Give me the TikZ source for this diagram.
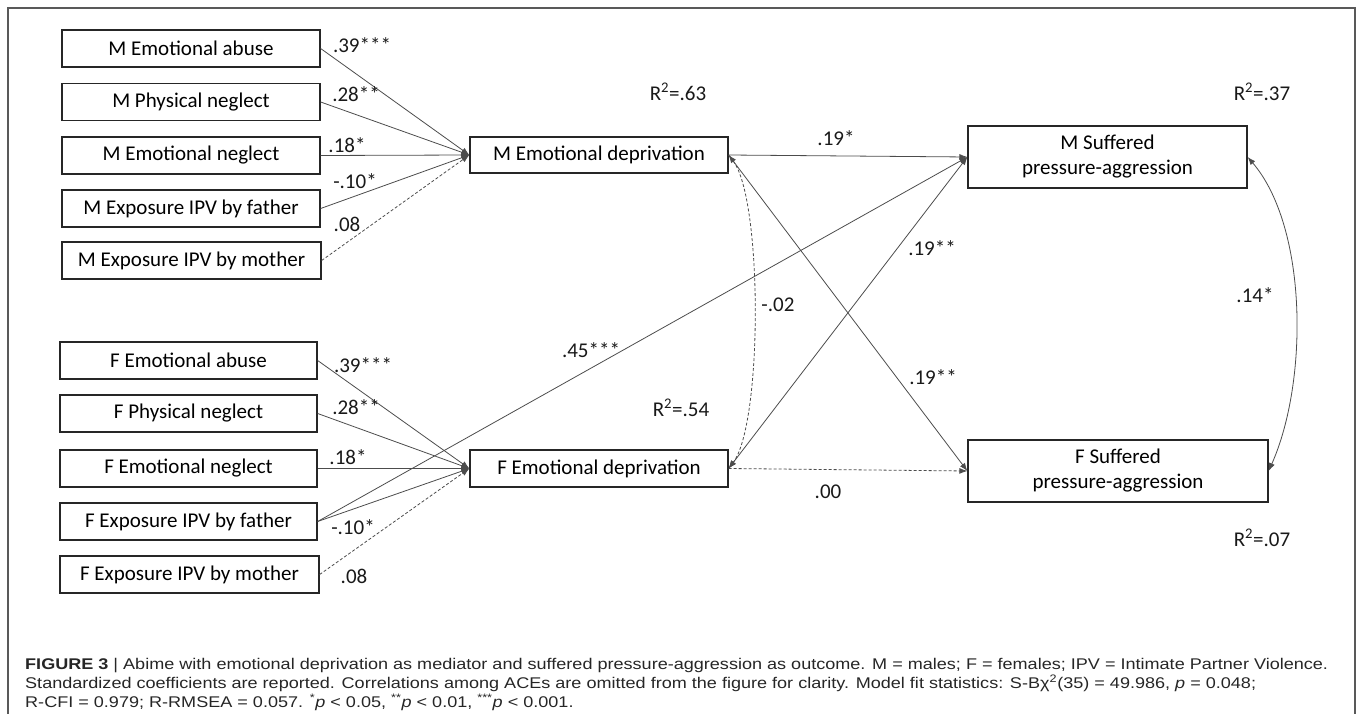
\documentclass[tikz,border=0pt]{standalone}
\usepackage{fontspec}
\setmainfont{Carlito}
\newfontfamily\capfont{Liberation Sans}
\usetikzlibrary{arrows.meta}
\begin{document}
\begin{tikzpicture}[x=1pt,y=-1pt,
  box/.style={draw=black!85, line width=1.3pt, inner sep=0pt, align=center, font=\fontsize{21}{25}\selectfont},
  lab/.style={inner sep=0pt, font=\fontsize{21}{25}\selectfont, text=black!90},
  conn/.style={draw=black!70, line width=0.8pt},
  arr/.style={-{Latex[length=8pt,width=6pt]}},
  barr/.style={{Latex[length=8pt,width=6pt]}-{Latex[length=8pt,width=6pt]}},
  dsh/.style={dash pattern=on 3pt off 2pt},
  captxt/.style={inner sep=0pt, font=\capfont\fontsize{15.5}{19}\selectfont, text=black!85}
]
\useasboundingbox (0,0) rectangle (1358,714);
\draw[gray!70!black, line width=1.6pt] (8,730) -- (8,8) -- (1355,8) -- (1355,730);

% M exogenous
\node[box, minimum width=258pt, minimum height=37pt] (m1) at (191,48.5) {M Emotional abuse};
\node[box, minimum width=258pt, minimum height=37pt] (m2) at (191,102) {M Physical neglect};
\node[box, minimum width=258pt, minimum height=37pt] (m3) at (191,155.5) {M Emotional neglect};
\node[box, minimum width=258pt, minimum height=37pt] (m4) at (191,208.5) {M Exposure IPV by father};
\node[box, minimum width=259pt, minimum height=37pt] (m5) at (191.5,260.5) {M Exposure IPV by mother};
% F exogenous
\node[box, minimum width=257pt, minimum height=37pt] (f1) at (188.5,360.5) {F Emotional abuse};
\node[box, minimum width=257pt, minimum height=37pt] (f2) at (188.5,413.5) {F Physical neglect};
\node[box, minimum width=257pt, minimum height=37pt] (f3) at (188.5,468.5) {F Emotional neglect};
\node[box, minimum width=257pt, minimum height=37pt] (f4) at (188.5,521.5) {F Exposure IPV by father};
\node[box, minimum width=259pt, minimum height=37pt] (f5) at (189.5,574.5) {F Exposure IPV by mother};
% mediators
\node[box, minimum width=258pt, minimum height=36pt] (ME) at (599,155) {M Emotional deprivation};
\node[box, minimum width=258pt, minimum height=37pt] (FE) at (599,468.5) {F Emotional deprivation};
% outcomes
\node[box, minimum width=279pt, minimum height=62pt] (MS) at (1107.5,157) {M Suffered\\pressure-aggression};
\node[box, minimum width=300pt, minimum height=62pt] (FS) at (1118,471) {F Suffered\\pressure-aggression};

% connectors M
\draw[conn,arr] (m1.east) -- (ME.west);
\draw[conn,arr] (m2.east) -- (ME.west);
\draw[conn,arr] (m3.east) -- (ME.west);
\draw[conn,arr] (m4.east) -- (ME.west);
\draw[conn,arr,dsh] (m5.east) -- (ME.west);
% connectors F
\draw[conn,arr] (f1.east) -- (FE.west);
\draw[conn,arr] (f2.east) -- (FE.west);
\draw[conn,arr] (f3.east) -- (FE.west);
\draw[conn,arr] (f4.east) -- (FE.west);
\draw[conn,arr,dsh] (f5.east) -- (FE.west);
% paths
\draw[conn,arr] (ME.east) -- (MS.west);
\draw[conn,arr] (f4.east) -- (MS.west);
\draw[conn,barr] (MS.west) -- (FE.east);
\draw[conn,arr] (ME.east) -- (FS.west);
\draw[conn,arr,dsh] (FE.east) -- (FS.west);
\draw[conn,barr,dsh] (ME.east) .. controls +(34,45) and +(34,-45) .. (FE.east);
\draw[conn,barr] (MS.east) .. controls +(60,70) and +(40,-90) .. (FS.east);

% coefficient labels
\node[lab] (l1) at (362,45) {.39***};
\node[lab] (l2) at (356,94) {.28**};
\node[lab] (l3) at (347,145) {.18*};
\node[lab] (l4) at (355,181) {-.10*};
\node[lab] (l5) at (347,224) {.08};
\node[lab] (k1) at (363,365) {.39***};
\node[lab] (k2) at (356,407) {.28**};
\node[lab] (k3) at (348,457) {.18*};
\node[lab] (k4) at (353,527) {-.10*};
\node[lab] (k5) at (354,576) {.08};
\node[lab] (r1) at (678,92) {R\textsuperscript{2}=.63};
\node[lab] (r2) at (681,408) {R\textsuperscript{2}=.54};
\node[lab] (r3) at (1262,92) {R\textsuperscript{2}=.37};
\node[lab] (r4) at (1262,538) {R\textsuperscript{2}=.07};
\node[lab] (p1) at (836,138) {.19*};
\node[lab] (p2) at (591,350) {.45***};
\node[lab] (p3) at (778,305) {-.02};
\node[lab] (p4) at (828,492) {.00};
\node[lab] (p5) at (932,248) {.19**};
\node[lab] (p6) at (933,377) {.19**};
\node[lab] (p7) at (1255,295) {.14*};

% caption
\node[captxt, anchor=base west] (c1) at (25,669) {\scalebox{1.165}[1]{\textbf{FIGURE 3} | Abime with emotional deprivation as mediator and suffered pressure-aggression as outcome. M = males; F = females; IPV = Intimate Partner Violence.}};
\node[captxt, anchor=base west] (c2) at (25,688) {\scalebox{1.165}[1]{Standardized coefficients are reported. Correlations among ACEs are omitted from the figure for clarity. Model fit statistics: S-Bχ\textsuperscript{2}(35) = 49.986, \textit{p} = 0.048;}};
\node[captxt, anchor=base west] (c3) at (25,707) {\scalebox{1.165}[1]{R-CFI = 0.979; R-RMSEA = 0.057. \textsuperscript{*}\textit{p} < 0.05, \textsuperscript{**}\textit{p} < 0.01, \textsuperscript{***}\textit{p} < 0.001.}};
\end{tikzpicture}
\end{document}
